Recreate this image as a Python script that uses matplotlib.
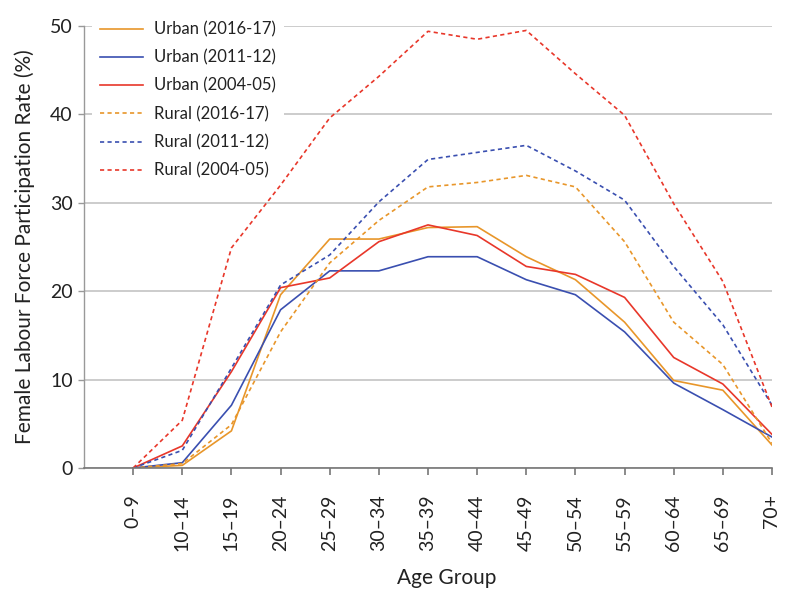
import matplotlib
matplotlib.use('Agg')
import matplotlib.pyplot as plt

plt.rcParams['font.family'] = ['Lato', 'DejaVu Sans']

# tranches d'age et taux (%)
age_groups = ['0–9', '10–14', '15–19', '20–24', '25–29', '30–34', '35–39',
              '40–44', '45–49', '50–54', '55–59', '60–64', '65–69', '70+']

urban_2016 = [0, 0.3, 4.2, 19.6, 25.9, 25.9, 27.2, 27.3, 23.9, 21.3, 16.5, 9.9, 8.8, 2.6]
urban_2011 = [0, 0.6, 7.1, 17.9, 22.3, 22.3, 23.9, 23.9, 21.3, 19.6, 15.4, 9.6, 6.6, 3.5]
urban_2004 = [0, 2.5, 10.9, 20.4, 21.5, 25.6, 27.5, 26.3, 22.8, 21.9, 19.3, 12.5, 9.5, 3.8]
rural_2016 = [0, 0.5, 4.9, 15.4, 23.2, 28.0, 31.8, 32.3, 33.1, 31.8, 25.6, 16.5, 11.7, 2.8]
rural_2011 = [0, 2.0, 11.3, 20.7, 24.1, 30.1, 34.9, 35.7, 36.5, 33.6, 30.3, 22.8, 16.2, 7.1]
rural_2004 = [0, 5.4, 24.9, 32.0, 39.6, 44.3, 49.4, 48.5, 49.5, 44.6, 39.9, 29.9, 21.1, 6.9]

naranja = '#e8962a'
azul = '#3a4fb0'
rojo = '#e8372a'
texto = '#222222'

fig = plt.figure(figsize=(8.1, 6), dpi=100)
ax = fig.add_axes([84 / 810, 1 - 468 / 600, (772 - 84) / 810, (468 - 26) / 600])

x = list(range(len(age_groups)))
lw = 1.2
ax.plot(x, urban_2016, color=naranja, lw=lw, label='Urban (2016-17)')
ax.plot(x, urban_2011, color=azul, lw=lw, label='Urban (2011-12)')
ax.plot(x, urban_2004, color=rojo, lw=lw, label='Urban (2004-05)')
ax.plot(x, rural_2016, color=naranja, lw=lw, dashes=(2.5, 2), label='Rural (2016-17)')
ax.plot(x, rural_2011, color=azul, lw=lw, dashes=(2.5, 2), label='Rural (2011-12)')
ax.plot(x, rural_2004, color=rojo, lw=lw, dashes=(2.5, 2), label='Rural (2004-05)')

ax.set_xlim(-1, 13)
ax.set_ylim(0, 50)
ax.set_yticks([0, 10, 20, 30, 40, 50])
ax.set_xticks(x)
ax.set_xticklabels(age_groups, rotation=90)
ax.yaxis.grid(True, color='#c4c4c4', lw=1.2)
ax.set_axisbelow(True)

for s in ['top', 'right']:
    ax.spines[s].set_visible(False)
ax.spines['bottom'].set_color('#777777')
ax.spines['bottom'].set_linewidth(1.2)
ax.spines['left'].set_color('#999999')
ax.spines['left'].set_linewidth(1.0)
ax.tick_params(axis='x', length=5, width=1.2, color='#777777', labelsize=14, pad=14, labelcolor=texto)
ax.tick_params(axis='y', length=4, width=1.0, color='#999999', labelsize=14, pad=4, labelcolor=texto)

ax.set_xlabel('Age Group', fontsize=15, color=texto)
ax.xaxis.set_label_coords((447 - 84) / (772 - 84), -(578 - 468) / (468 - 26), transform=ax.transAxes)
ax.xaxis.label.set_va('center')
ax.set_ylabel('Female Labour Force Participation Rate (%)', fontsize=15, color=texto)
ax.yaxis.set_label_coords(-(84 - 25) / (772 - 84), 0.5, transform=ax.transAxes)
ax.yaxis.label.set_va('center')

leg = ax.legend(loc='upper left', bbox_to_anchor=(0.0, 1.047), frameon=True, fontsize=12,
                handlelength=2.58, labelspacing=0.73, handletextpad=0.66, borderpad=0.46,
                facecolor='white', edgecolor='none', framealpha=1, fancybox=False)
leg.set_zorder(1.5)
for t in leg.get_texts():
    t.set_color(texto)

fig.savefig('out.png', dpi=100)
